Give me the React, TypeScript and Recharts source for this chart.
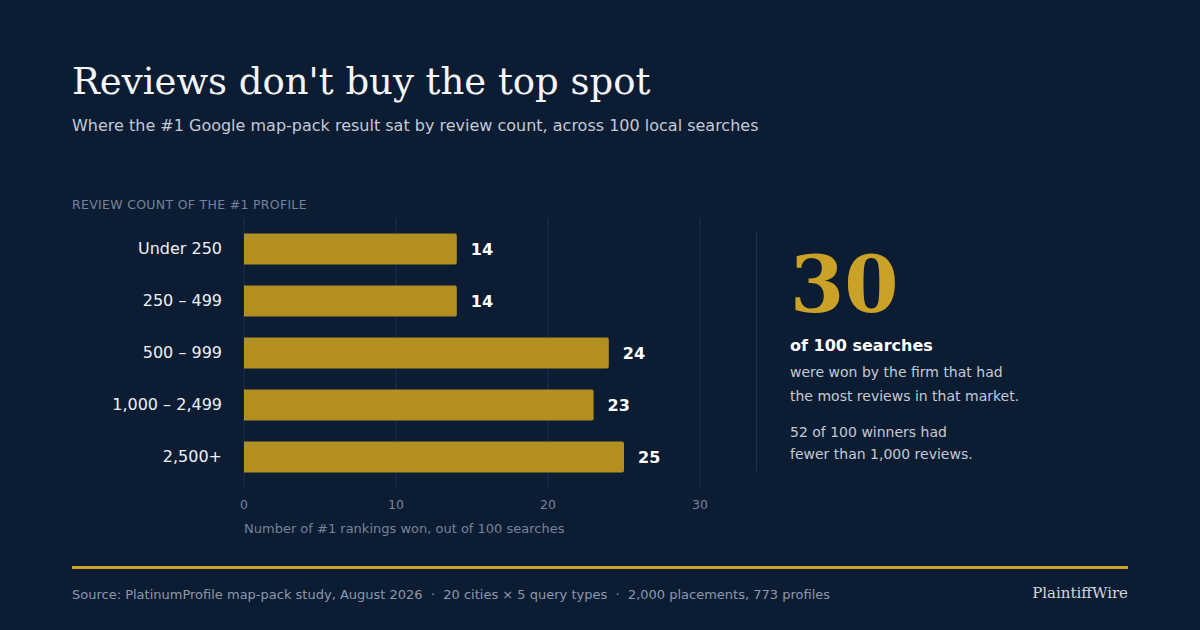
import * as React from "react"
import { BarChart, Bar, XAxis, YAxis, CartesianGrid, LabelList } from "recharts"

const categories = ["Under 250", "250 – 499", "500 – 999", "1,000 – 2,499", "2,500+"]
const wins = [14, 14, 24, 23, 25]
const xTicks = [0, 10, 20, 30]

const data = categories.map((name, i) => ({ name, wins: wins[i] }))

const BG = "#0c1c33"
const GOLD = "#b38e20"
const GOLD_BRIGHT = "#c9a227"
const SANS = "'DejaVu Sans', sans-serif"
const SERIF = "'DejaVu Serif', serif"

export default function App() {
  return (
    <div style={{ position: "absolute", left: 0, top: 0, width: 1200, height: 630, background: BG, overflow: "hidden" }}>
      <svg width={1200} height={630} style={{ position: "absolute", left: 0, top: 0 }}>
        <text x={72} y={94} fontFamily={SERIF} fontSize={37} fill="#f4f5f7">Reviews don't buy the top spot</text>
        <text x={72} y={131} fontFamily={SANS} fontSize={16} fill="#c3cad5">
          Where the #1 Google map-pack result sat by review count, across 100 local searches
        </text>
        <text x={72} y={209} fontFamily={SANS} fontSize={12.5} fill="#77839a" letterSpacing={0.3}>
          REVIEW COUNT OF THE #1 PROFILE
        </text>
        <text x={244} y={533} fontFamily={SANS} fontSize={13} fill="#77839a">
          Number of #1 rankings won, out of 100 searches
        </text>

        <line x1={756.5} x2={756.5} y1={232} y2={471} stroke="#1f3254" strokeWidth={1} />
        <text x={790} y={312} fontFamily={SERIF} fontWeight="bold" fontSize={78} fill={GOLD_BRIGHT}>30</text>
        <text x={790} y={351} fontFamily={SANS} fontWeight="bold" fontSize={16} fill="#ffffff">of 100 searches</text>
        <text x={790} y={377} fontFamily={SANS} fontSize={14} fill="#c3cad5">were won by the firm that had</text>
        <text x={790} y={401} fontFamily={SANS} fontSize={14} fill="#c3cad5">the most reviews in that market.</text>
        <text x={790} y={437} fontFamily={SANS} fontSize={14} fill="#c3cad5">52 of 100 winners had</text>
        <text x={790} y={459} fontFamily={SANS} fontSize={14} fill="#c3cad5">fewer than 1,000 reviews.</text>

        <rect x={72} y={566} width={1056} height={3} fill={GOLD_BRIGHT} />
        <text x={72} y={599} fontFamily={SANS} fontSize={13} fill="#8d98aa" style={{ whiteSpace: "pre" }}>
          {"Source: PlatinumProfile map-pack study, August 2026  ·  20 cities × 5 query types  ·  2,000 placements, 773 profiles"}
        </text>
        <text x={1128} y={598} textAnchor="end" fontFamily={SERIF} fontSize={15} fill="#d3d7de">PlaintiffWire</text>
      </svg>

      <div style={{ position: "absolute", left: 0, top: 200 }}>
        <BarChart
          width={780}
          height={340}
          data={data}
          layout="vertical"
          margin={{ top: 18, right: 80, bottom: 23, left: 0 }}
          barSize={31}
        >
          <CartesianGrid horizontal={false} vertical stroke="#1d2e4f" strokeWidth={1} />
          <XAxis
            type="number"
            domain={[0, 30]}
            ticks={xTicks}
            axisLine={false}
            tickLine={false}
            tickSize={0}
            tickMargin={13}
            height={30}
            tick={{ fill: "#77839a", fontSize: 12.5, fontFamily: SANS }}
          />
          <YAxis
            type="category"
            dataKey="name"
            width={244}
            axisLine={false}
            tickLine={false}
            tickSize={0}
            tickMargin={22}
            padding={{ top: 4.5, bottom: 4.5 }}
            tick={{ fill: "#eef0f3", fontSize: 16, fontFamily: SANS }}
          />
          <Bar dataKey="wins" fill={GOLD} radius={[0, 2, 2, 0]} isAnimationActive={false}>
            <LabelList
              dataKey="wins"
              position="right"
              offset={14}
              fill="#ffffff"
              fontSize={16}
              fontWeight="bold"
              fontFamily={SANS}
            />
          </Bar>
        </BarChart>
      </div>
    </div>
  )
}
